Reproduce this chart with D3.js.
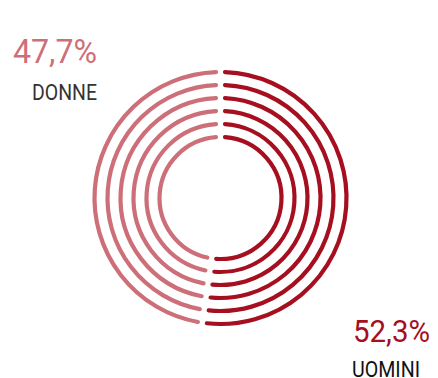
<!DOCTYPE html>
<html>
<head>
<meta charset="utf-8">
<script src="https://cdn.jsdelivr.net/npm/d3@7"></script>
<style>
  html, body { margin: 0; padding: 0; background: #fff; }
  svg { display: block; }
</style>
</head>
<body>
<svg id="chart" width="438" height="378"></svg>
<script>
// Gender split, repeated over concentric rings
const categories = ["UOMINI", "DONNE"];
const values = [52.3, 47.7];
const valueLabels = ["52,3%", "47,7%"];
const colors = ["#a50f1f", "#cd6f78"];
const ringIndex = [0, 1, 2, 3, 4, 5];

const W = 438, H = 378;
const cx = 220.5, cy = 198;
const svg = d3.select("#chart");

const radius = d3.scaleLinear().domain([0, ringIndex.length - 1]).range([61, 126]);
const pie = d3.pie().sort(null).value(d => d.value);
const slices = pie(categories.map((c, i) => ({ name: c, value: values[i], color: colors[i] })));

const gapPx = 9; // distance between neighbouring arc ends (before caps)

const g = svg.append("g").attr("transform", `translate(${cx},${cy})`);

ringIndex.forEach(k => {
  const r = radius(k);
  const trim = (gapPx / 2) / r;
  slices.forEach(s => {
    const p = d3.path();
    const a0 = s.startAngle + trim - Math.PI / 2;
    const a1 = s.endAngle - trim - Math.PI / 2;
    p.arc(0, 0, r, a0, a1);
    g.append("path")
      .attr("d", p.toString())
      .attr("fill", "none")
      .attr("stroke", s.data.color)
      .attr("stroke-width", 4.2)
      .attr("stroke-linecap", "round");
  });
});

// Labels
const font = "Roboto, 'Open Sans', sans-serif";

svg.append("text")
  .attr("x", 97).attr("y", 62.5)
  .attr("text-anchor", "end")
  .attr("font-family", font).attr("font-size", 33)
  .attr("fill", colors[1])
  .attr("textLength", 84).attr("lengthAdjust", "spacingAndGlyphs")
  .text(valueLabels[1]);

svg.append("text")
  .attr("x", 97).attr("y", 100)
  .attr("text-anchor", "end")
  .attr("font-family", font).attr("font-size", 22)
  .attr("fill", "#333")
  .attr("textLength", 65).attr("lengthAdjust", "spacingAndGlyphs")
  .text(categories[1]);

svg.append("text")
  .attr("x", 353).attr("y", 341.5)
  .attr("font-family", font).attr("font-size", 32)
  .attr("fill", colors[0])
  .attr("textLength", 77).attr("lengthAdjust", "spacingAndGlyphs")
  .text(valueLabels[0]);

svg.append("text")
  .attr("x", 352).attr("y", 376.5)
  .attr("font-family", font).attr("font-size", 22.5)
  .attr("fill", "#111")
  .attr("textLength", 68).attr("lengthAdjust", "spacingAndGlyphs")
  .text(categories[0]);
</script>
</body>
</html>
